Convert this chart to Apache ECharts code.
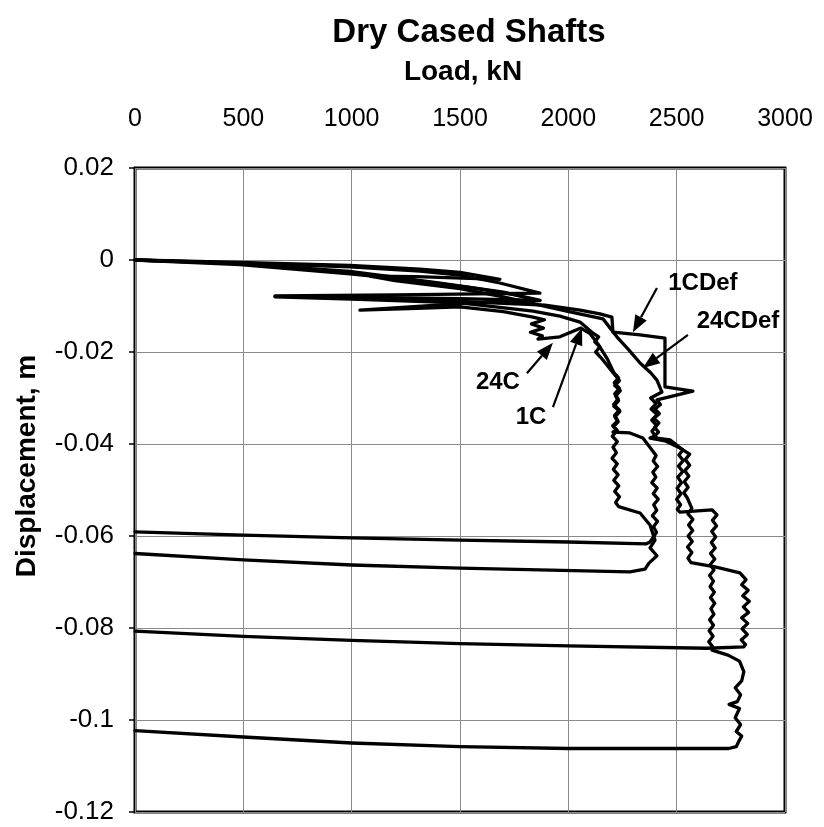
<!DOCTYPE html>
<html><head><meta charset="utf-8">
<script src="https://cdn.jsdelivr.net/npm/echarts@6/dist/echarts.min.js"></script>
<style>html,body{margin:0;padding:0;background:#fff}#c{width:824px;height:827px}</style>
</head><body><div id="c"></div>
<script>
const titleText = 'Dry Cased Shafts';
const xName = 'Load, kN';
const yName = 'Displacement, m';
const xTicks = [0, 500, 1000, 1500, 2000, 2500, 3000];
const yTicks = [0.02, 0, -0.02, -0.04, -0.06, -0.08, -0.1, -0.12];

// [load kN, displacement m]
const s1CDef = [[0,0],[485,-0.0007],[992,-0.0015],[1315,-0.0024],[1500,-0.0033],[1684,-0.0050],[1869,-0.0072],
[1200,-0.0076],[646,-0.0078],[900,-0.0081],[1223,-0.0086],[1500,-0.0090],[1700,-0.0094],[1892,-0.0098],
[2054,-0.0109],[2146,-0.0117],[2201,-0.0124],[2206,-0.0157],[2331,-0.0163],[2446,-0.0170],[2446,-0.0276],[2575,-0.0285],[2409,-0.0304],
[2425,-0.0314],[2400,-0.0324],[2420,-0.0334],[2395,-0.0344],[2418,-0.0354],[2398,-0.0364],[2416,-0.0374],[2400,-0.0382],[2409,-0.0387],
[2469,-0.0391],[2529,-0.0413],[2510,-0.0424],[2530,-0.0436],[2508,-0.0448],[2528,-0.0460],[2505,-0.0472],[2522,-0.0484],[2502,-0.0496],[2520,-0.0508],[2500,-0.0520],[2518,-0.0532],[2503,-0.0542],[2515,-0.0548],
[2663,-0.0543],[2686,-0.0554],[2665,-0.0566],[2684,-0.0578],[2662,-0.0590],[2680,-0.0602],[2660,-0.0614],[2678,-0.0626],[2656,-0.0638],[2676,-0.0650],[2655,-0.0662],[2672,-0.0674],[2652,-0.0686],[2670,-0.0698],[2654,-0.0710],[2674,-0.0722],[2656,-0.0734],[2676,-0.0746],[2658,-0.0758],[2672,-0.0770],[2652,-0.0782],[2670,-0.0794],[2650,-0.0806],[2668,-0.0818],[2648,-0.0830],[2665,-0.0840],[2663,-0.0848],
[2737,-0.0859],[2790,-0.0872],[2810,-0.0895],[2800,-0.0915],[2770,-0.0930],[2795,-0.0945],[2780,-0.0960],[2742,-0.0966],[2790,-0.0975],[2770,-0.0995],[2795,-0.1010],[2775,-0.1025],[2800,-0.1035],[2785,-0.1048],[2775,-0.1058],[2740,-0.1062],
[2000,-0.1062],[1500,-0.1058],[1000,-0.1050],[500,-0.1037],[0,-0.1023]];

const s24CDef = [[0,0],[485,-0.0005],[992,-0.0012],[1315,-0.0020],[1500,-0.0027],[1684,-0.0042],
[1300,-0.0036],[1085,-0.0035],[1200,-0.0045],[1500,-0.0062],[1700,-0.0080],[1837,-0.0095],[2008,-0.0113],[2160,-0.0128],
[2224,-0.0167],[2280,-0.0196],[2331,-0.0224],[2380,-0.0245],[2409,-0.0261],[2432,-0.0287],
[2380,-0.0300],[2405,-0.0312],[2382,-0.0324],[2410,-0.0336],[2385,-0.0348],[2408,-0.0360],[2386,-0.0372],[2400,-0.0382],[2377,-0.0387],[2446,-0.0393],[2515,-0.0409],
[2560,-0.0422],[2540,-0.0434],[2560,-0.0446],[2538,-0.0458],[2556,-0.0470],[2535,-0.0482],[2553,-0.0494],[2533,-0.0506],[2550,-0.0518],[2570,-0.0540],[2552,-0.0552],[2575,-0.0564],[2555,-0.0576],[2574,-0.0588],[2553,-0.0600],[2572,-0.0612],[2550,-0.0624],[2570,-0.0636],[2552,-0.0648],[2566,-0.0658],
[2677,-0.0667],[2792,-0.0680],[2820,-0.0695],[2800,-0.0706],[2830,-0.0718],[2805,-0.0730],[2835,-0.0742],[2808,-0.0754],[2832,-0.0766],[2800,-0.0778],[2828,-0.0790],[2802,-0.0802],[2826,-0.0814],[2798,-0.0826],[2818,-0.0836],[2810,-0.0841],
[2640,-0.0844],[2000,-0.0839],[1500,-0.0834],[1000,-0.0827],[500,-0.0818],[0,-0.0807]];

const s1C = [[0,0],[485,-0.0010],[992,-0.0030],[1300,-0.0045],[1550,-0.0060],[1750,-0.0075],[1870,-0.0088],
[1500,-0.0084],[1000,-0.0081],[646,-0.0080],[1000,-0.0085],[1500,-0.0093],[1837,-0.0111],[1961,-0.0122],[2054,-0.0135],[2114,-0.0159],
[2140,-0.0167],[2122,-0.0178],[2146,-0.0189],[2126,-0.0200],[2148,-0.0211],[2178,-0.0228],[2215,-0.0250],
[2236,-0.0262],[2214,-0.0273],[2240,-0.0284],[2218,-0.0296],[2232,-0.0306],[2210,-0.0318],[2238,-0.0329],[2215,-0.0341],[2230,-0.0352],[2208,-0.0362],[2225,-0.0370],[2206,-0.0374],
[2284,-0.0376],[2344,-0.0387],[2386,-0.0413],[2405,-0.0425],[2392,-0.0437],[2412,-0.0449],[2390,-0.0461],[2404,-0.0472],[2385,-0.0484],[2410,-0.0496],[2392,-0.0508],[2415,-0.0520],[2394,-0.0532],[2408,-0.0544],[2388,-0.0556],[2412,-0.0568],[2393,-0.0580],[2407,-0.0592],[2390,-0.0604],[2377,-0.0613],
[2360,-0.0617],[2000,-0.0613],[1500,-0.0609],[1000,-0.0604],[500,-0.0598],[0,-0.0591]];

const s24C = [[0,0],[485,-0.0008],[992,-0.0025],[1400,-0.0050],[1700,-0.0070],[1860,-0.0088],
[1500,-0.0095],[1038,-0.0109],[1300,-0.0105],[1500,-0.0102],[1700,-0.0112],[1837,-0.0124],
[1890,-0.0130],[1830,-0.0139],[1885,-0.0148],[1825,-0.0157],[1880,-0.0165],[1860,-0.0172],
[1961,-0.0167],[2058,-0.0148],[2100,-0.0160],[2140,-0.0185],[2180,-0.0215],[2210,-0.0245],
[2232,-0.0256],[2212,-0.0267],[2236,-0.0279],[2214,-0.0291],[2230,-0.0302],[2209,-0.0314],[2235,-0.0326],[2213,-0.0338],[2228,-0.0349],[2205,-0.0360],[2224,-0.0371],[2203,-0.0383],[2226,-0.0395],[2206,-0.0407],[2222,-0.0419],[2202,-0.0431],[2226,-0.0443],[2208,-0.0455],[2230,-0.0467],[2210,-0.0479],[2233,-0.0491],[2214,-0.0503],[2236,-0.0515],[2218,-0.0527],[2232,-0.0536],
[2331,-0.0550],[2377,-0.0576],[2400,-0.0609],[2377,-0.0626],[2409,-0.0643],[2372,-0.0659],[2354,-0.0672],[2284,-0.0678],
[1500,-0.0670],[1000,-0.0663],[500,-0.0652],[0,-0.0638]];

// annotations: label text, label position, arrow start, arrow tip (data coords)
const annNames = ['1CDef', '24CDef', '24C', '1C'];
const annLabelPos = [[2621,-0.0050],[2783,-0.0133],[1675,-0.0267],[1828,-0.0343]];
const annFrom = [[2409,-0.0061],[2552,-0.0163],[1809,-0.0246],[1929,-0.0320]];
const annTo = [[2298,-0.0157],[2344,-0.0235],[1929,-0.0180],[2063,-0.0148]];

const FONT = '"Liberation Sans", Arial, sans-serif';
const chart = echarts.init(document.getElementById('c'), null, {renderer: 'canvas'});

const lineStyle = {color: '#000', width: 3.3, join: 'round', cap: 'round'};
function mk(name, data) {
  return {type: 'line', name, data, showSymbol: false, symbol: 'none',
    lineStyle, itemStyle: {color: '#000'}, animation: false, silent: true, z: 3};
}

const option = {
  animation: false,
  backgroundColor: '#fff',
  title: {text: titleText, left: 464, top: 11, textAlign: 'center',
    textStyle: {fontFamily: FONT, fontWeight: 'bold', fontSize: 33, color: '#000'}},
  grid: {left: 135, right: 39, top: 168, bottom: 15, show: true, borderColor: '#000', borderWidth: 3, backgroundColor: 'transparent'},
  xAxis: {type: 'value', position: 'top', min: xTicks[0], max: xTicks[xTicks.length-1], interval: 500,
    axisLine: {show: false}, axisTick: {show: false},
    axisLabel: {margin: 36, fontFamily: FONT, fontSize: 25, color: '#000',
      formatter: v => String(xTicks.find(t => Math.abs(t - v) < 1e-6) ?? v)},
    splitLine: {show: true, lineStyle: {color: '#8a8a8a', width: 1}}},
  yAxis: {type: 'value', min: -0.12, max: 0.02, interval: 0.02,
    axisLine: {show: false}, axisTick: {show: true, inside: false, length: 6, lineStyle: {color: '#000', width: 1.5}},
    axisLabel: {margin: 21, fontFamily: FONT, fontSize: 26, color: '#000',
      formatter: v => { const t = yTicks.find(t => Math.abs(t - v) < 1e-9); return String(+((t ?? v).toFixed(2))); }},
    splitLine: {show: true, lineStyle: {color: '#8a8a8a', width: 1}}},
  series: [mk('1C', s1C), mk('24C', s24C), mk('24CDef', s24CDef), mk('1CDef', s1CDef)]
};
chart.setOption(option);

const g = [];
annNames.forEach((n, i) => {
  const p = chart.convertToPixel({gridIndex: 0}, annLabelPos[i]);
  g.push({type: 'text', x: p[0], y: p[1], z: 10,
    style: {text: n, fill: '#000', font: 'bold 24px ' + FONT, textAlign: 'center', textVerticalAlign: 'middle'}});
  const a = chart.convertToPixel({gridIndex: 0}, annFrom[i]);
  const b = chart.convertToPixel({gridIndex: 0}, annTo[i]);
  const dx = b[0] - a[0], dy = b[1] - a[1], len = Math.hypot(dx, dy);
  const ux = dx / len, uy = dy / len, hl = 17, hw = 6.5;
  const bx = b[0] - ux * hl, by = b[1] - uy * hl;
  g.push({type: 'line', z: 10, shape: {x1: a[0], y1: a[1], x2: bx, y2: by}, style: {stroke: '#000', lineWidth: 2.2}});
  g.push({type: 'polygon', z: 10, shape: {points: [[b[0], b[1]], [bx - uy * hw, by + ux * hw], [bx + uy * hw, by - ux * hw]]}, style: {fill: '#000'}});
});
g.push({type: 'text', x: 463, y: 72, z: 10,
  style: {text: xName, fill: '#000', font: 'bold 28px ' + FONT, textAlign: 'center', textVerticalAlign: 'middle'}});
g.push({type: 'text', x: 27, y: 466, rotation: Math.PI / 2, z: 10,
  style: {text: yName, fill: '#000', font: 'bold 28px ' + FONT, textAlign: 'center', textVerticalAlign: 'middle'}});
chart.setOption({graphic: g});
</script></body></html>
